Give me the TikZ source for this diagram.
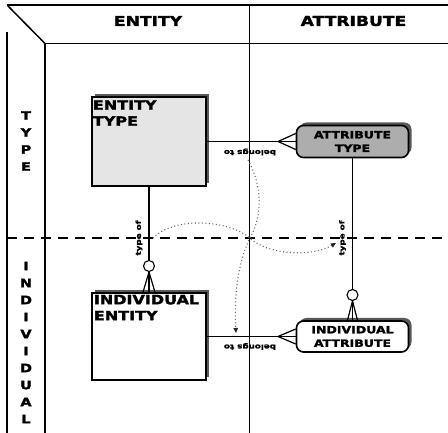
\documentclass[tikz,border=0pt]{standalone}
\usepackage{fontspec}
\newfontfamily\gfont{DejaVu Sans}[UprightFont=* Bold, FakeStretch=1.25, FakeBold=2.2]
\usetikzlibrary{shadows,arrows.meta}

\begin{document}
\begin{tikzpicture}[x=1pt,y=-1pt,
  frame/.style={line width=1.5pt},
  conn/.style={line width=1.2pt},
  hdr/.style={font=\gfont\fontsize{13.7}{16}\selectfont, inner sep=0pt},
  side/.style={font=\gfont\fontsize{11.6}{17}\selectfont, align=center, inner sep=0pt},
  boxtext/.style={font=\gfont\fontsize{12.8}{16}\selectfont, align=left, anchor=north west, inner sep=0pt},
  attrtext/.style={font=\gfont\fontsize{10}{13.5}\selectfont, align=center, inner sep=0pt},
  rel/.style={font=\gfont\fontsize{7}{8}\selectfont, inner sep=0pt},
  shade/.style={drop shadow={shadow xshift=3pt, shadow yshift=3pt, fill=black!65, opacity=1}},
  ebox/.style={draw, line width=1.6pt, shade, minimum width=114pt, inner sep=0pt},
  abox/.style={draw, line width=1.6pt, shade, rounded corners=7pt, minimum width=112pt, inner sep=0pt},
  optc/.style={circle, draw, fill=white, line width=1.1pt, minimum size=11pt, inner sep=0pt},
  flow/.style={black!60, line width=1.1pt, dash pattern=on 1pt off 2.5pt,
    -{Triangle[length=5pt,width=4.5pt,black!85]}},
]
\useasboundingbox (0,0) rectangle (448,433);

% frame of the matrix
\draw[frame] (7,5) -- (448,5);
\draw[frame] (7,32) -- (7,433);
\draw[line width=2.4pt] (7,237) -- (7,320);
\draw[frame] (8,6) -- (45,43.5);
\draw[frame] (45,43.5) -- (448,43.5);
\draw[frame] (45,43.5) -- (45,433);
\draw[frame] (249.5,5) -- (249.5,433);
\draw[line width=1.1pt, dash pattern=on 10pt off 7pt] (7,238) -- (448,238);

% headings
\node[hdr] (hEnt) at (148,21) {ENTITY};
\node[hdr] (hAtt) at (353.5,21) {ATTRIBUTE};
\node[side] (hType) at (26,141) {T\\Y\\P\\E};
\node[side] (hInd) at (26,342.5) {I\\N\\D\\I\\V\\I\\D\\U\\A\\L};

% entities and attributes
\node[ebox, fill=black!10, minimum height=89pt] (etype) at (149,141.5) {};
\node[boxtext] (etypeT) at ([xshift=1.5pt,yshift=-4pt]etype.north west) {ENTITY\\TYPE};
\node[ebox, fill=white, minimum height=87pt] (ient) at (149,336.5) {};
\node[boxtext] (ientT) at ([xshift=2.5pt,yshift=-2.5pt]ient.north west) {INDIVIDUAL\\ENTITY};
\node[abox, fill=black!32, minimum height=32pt] (atype) at (352.5,141.5) {};
\node[attrtext] (atypeT) at (atype.center) {ATTRIBUTE\\TYPE};
\node[abox, fill=white, minimum height=31pt] (iattr) at (352.5,336.5) {};
\node[attrtext] (iattrT) at (iattr.center) {INDIVIDUAL\\ATTRIBUTE};

% relationships
\coordinate (cfA) at (278,141.5);
\coordinate (cfB) at (278,336.5);
\draw[conn] (etype.east) -- (atype.west);
\draw[conn] (cfA) -- ([yshift=8pt]atype.west) (cfA) -- ([yshift=-8pt]atype.west);
\draw[conn] (ient.east) -- (iattr.west);
\draw[conn] (cfB) -- ([yshift=7.5pt]iattr.west) (cfB) -- ([yshift=-7.5pt]iattr.west);

\draw[conn] (etype.south) -- (ient.north);
\coordinate (cfC) at (149,272);
\draw[conn] (cfC) -- ([xshift=-6pt]ient.north) (cfC) -- ([xshift=6pt]ient.north);
\node[optc] (oC) at (149,266) {};

\draw[conn] (atype.south) -- (iattr.north);
\coordinate (cfD) at (352.5,301);
\draw[conn] (cfD) -- ([xshift=-5pt]iattr.north) (cfD) -- ([xshift=5pt]iattr.north);
\node[optc] (oD) at (352.5,295) {};

% relationship names
\node[rel, rotate=180] (bt1) at (250,152) {belongs to};
\node[rel, rotate=180] (bt2) at (250,346.5) {belongs to};
\node[rel, rotate=90] (to1) at (139,238) {type of};
\node[rel, rotate=90] (to2) at (342.5,238) {type of};

% derivation paths
\coordinate (fA) at (248,160);
\coordinate (fAe) at (236,333);
\draw[flow] (fA) .. controls (262,185) and (263,215) .. (250,238)
  .. controls (238,262) and (234,295) .. (fAe);
\coordinate (fB) at (153,238);
\coordinate (fBe) at (336,243);
\draw[flow] (fB) .. controls (175,216) and (228,220) .. (250,238)
  .. controls (266,254) and (310,258) .. (fBe);
\end{tikzpicture}
\end{document}
